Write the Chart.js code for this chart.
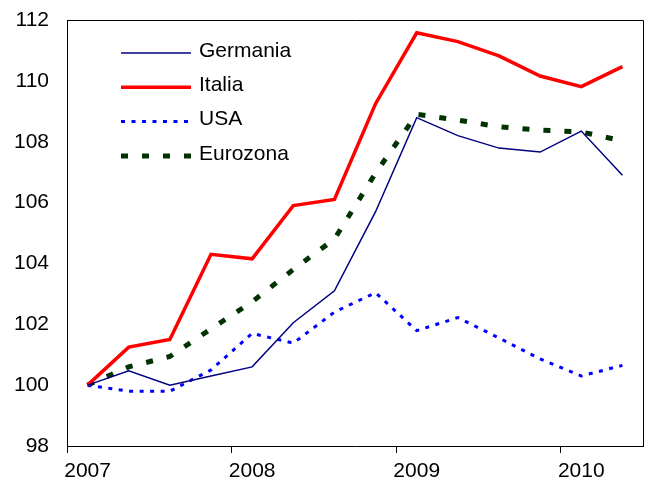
<!DOCTYPE html>
<html>
<head>
<meta charset="utf-8">
<script src="https://cdn.jsdelivr.net/npm/chart.js@4/dist/chart.umd.min.js"></script>
<style>
    body { margin: 0; background: #fff; }
    #wrap { width: 646px; height: 483px; }
</style>
</head>
<body>
<div id="wrap"><canvas id="chart"></canvas></div>
<script>
// quarterly data, 2007 T1 .. 2010 T2
const quarters = ['2007 T1', '2007 T2', '2007 T3', '2007 T4',
                  '2008 T1', '2008 T2', '2008 T3', '2008 T4',
                  '2009 T1', '2009 T2', '2009 T3', '2009 T4',
                  '2010 T1', '2010 T2'];
const germania = [100, 100.47, 100.0, 100.3, 100.6, 102.05, 103.1, 105.7, 108.79, 108.2, 107.79, 107.66, 108.35, 106.9];
const italia = [100, 101.25, 101.5, 104.3, 104.15, 105.9, 106.1, 109.25, 111.58, 111.29, 110.82, 110.16, 109.81, 110.47];
const usa = [100, 99.8, 99.8, 100.5, 101.7, 101.38, 102.4, 103.04, 101.79, 102.22, 101.55, 100.86, 100.3, 100.65];
const eurozona = [100, 100.6, 100.94, 101.85, 102.74, 103.8, 104.8, 106.97, 108.9, 108.71, 108.49, 108.38, 108.32, 108.03];
const yTicks = [98, 100, 102, 104, 106, 108, 110, 112];

const FONT = '"Liberation Sans", Arial, sans-serif';

// box around plot area + legend inside it
const frameAndLegend = {
    id: 'frameAndLegend',
    afterDatasetsDraw(chart) {
        const ctx = chart.ctx;
        const a = chart.chartArea;
        ctx.save();
        ctx.strokeStyle = '#000';
        ctx.lineWidth = 1;
        ctx.beginPath();
        ctx.moveTo(a.left, a.top + 0.5);
        ctx.lineTo(a.right + 0.5, a.top + 0.5);
        ctx.lineTo(a.right + 0.5, a.bottom);
        ctx.stroke();

        ctx.font = '21px ' + FONT;
        ctx.textBaseline = 'middle';
        ctx.fillStyle = '#000';
        chart.data.datasets.forEach(function(ds, i) {
            const y = 53 + i * 34.3;
            ctx.beginPath();
            ctx.strokeStyle = ds.borderColor;
            ctx.lineWidth = ds.borderWidth;
            ctx.setLineDash(ds.borderDash || []);
            ctx.moveTo(121, y);
            ctx.lineTo(191, y);
            ctx.stroke();
            ctx.setLineDash([]);
            ctx.fillText(ds.label, 199, y - 2);
        });
        ctx.restore();
    }
};

new Chart(document.getElementById('chart'), {
    type: 'line',
    data: {
        labels: quarters,
        datasets: [
            { label: 'Germania', data: germania, borderColor: '#000080', borderWidth: 1.5 },
            { label: 'Italia', data: italia, borderColor: '#ff0000', borderWidth: 3.5 },
            { label: 'USA', data: usa, borderColor: '#0000ff', borderWidth: 3, borderDash: [4, 6.5] },
            { label: 'Eurozona', data: eurozona, borderColor: '#003300', borderWidth: 5, borderDash: [7, 14] }
        ].map(d => Object.assign(d, { pointRadius: 0, tension: 0, fill: false }))
    },
    options: {
        responsive: true,
        maintainAspectRatio: false,
        animation: false,
        layout: { padding: { top: 20, right: 3, left: 0, bottom: 0 } },
        plugins: {
            legend: { display: false },
            tooltip: { enabled: false }
        },
        scales: {
            x: {
                offset: true,
                border: { display: true, color: '#000', width: 1 },
                grid: {
                    offset: true,
                    drawOnChartArea: false,
                    drawTicks: true,
                    tickLength: 7,
                    color: c => (c.index !== undefined && c.index % 4 === 0) ? '#000' : 'rgba(0,0,0,0)'
                },
                ticks: {
                    autoSkip: false,
                    maxRotation: 0,
                    padding: 6,
                    color: '#000',
                    font: { family: FONT, size: 21 },
                    callback: function(v, i) {
                        const q = quarters[i];
                        return q.endsWith('T1') ? q.slice(0, 4) : '';
                    }
                },
                afterFit: s => { s.height = 37; s.paddingLeft = 0; s.paddingRight = 0; }
            },
            y: {
                min: 98,
                max: 112,
                border: { display: true, color: '#000', width: 1 },
                grid: { display: false, drawTicks: false },
                afterBuildTicks: s => { s.ticks = yTicks.map(v => ({ value: v })); },
                ticks: {
                    padding: 18,
                    color: '#000',
                    font: { family: FONT, size: 21 }
                },
                afterFit: s => { s.width = 67; s.paddingTop = 0; s.paddingBottom = 0; }
            }
        }
    },
    plugins: [frameAndLegend]
});
</script>
</body>
</html>
